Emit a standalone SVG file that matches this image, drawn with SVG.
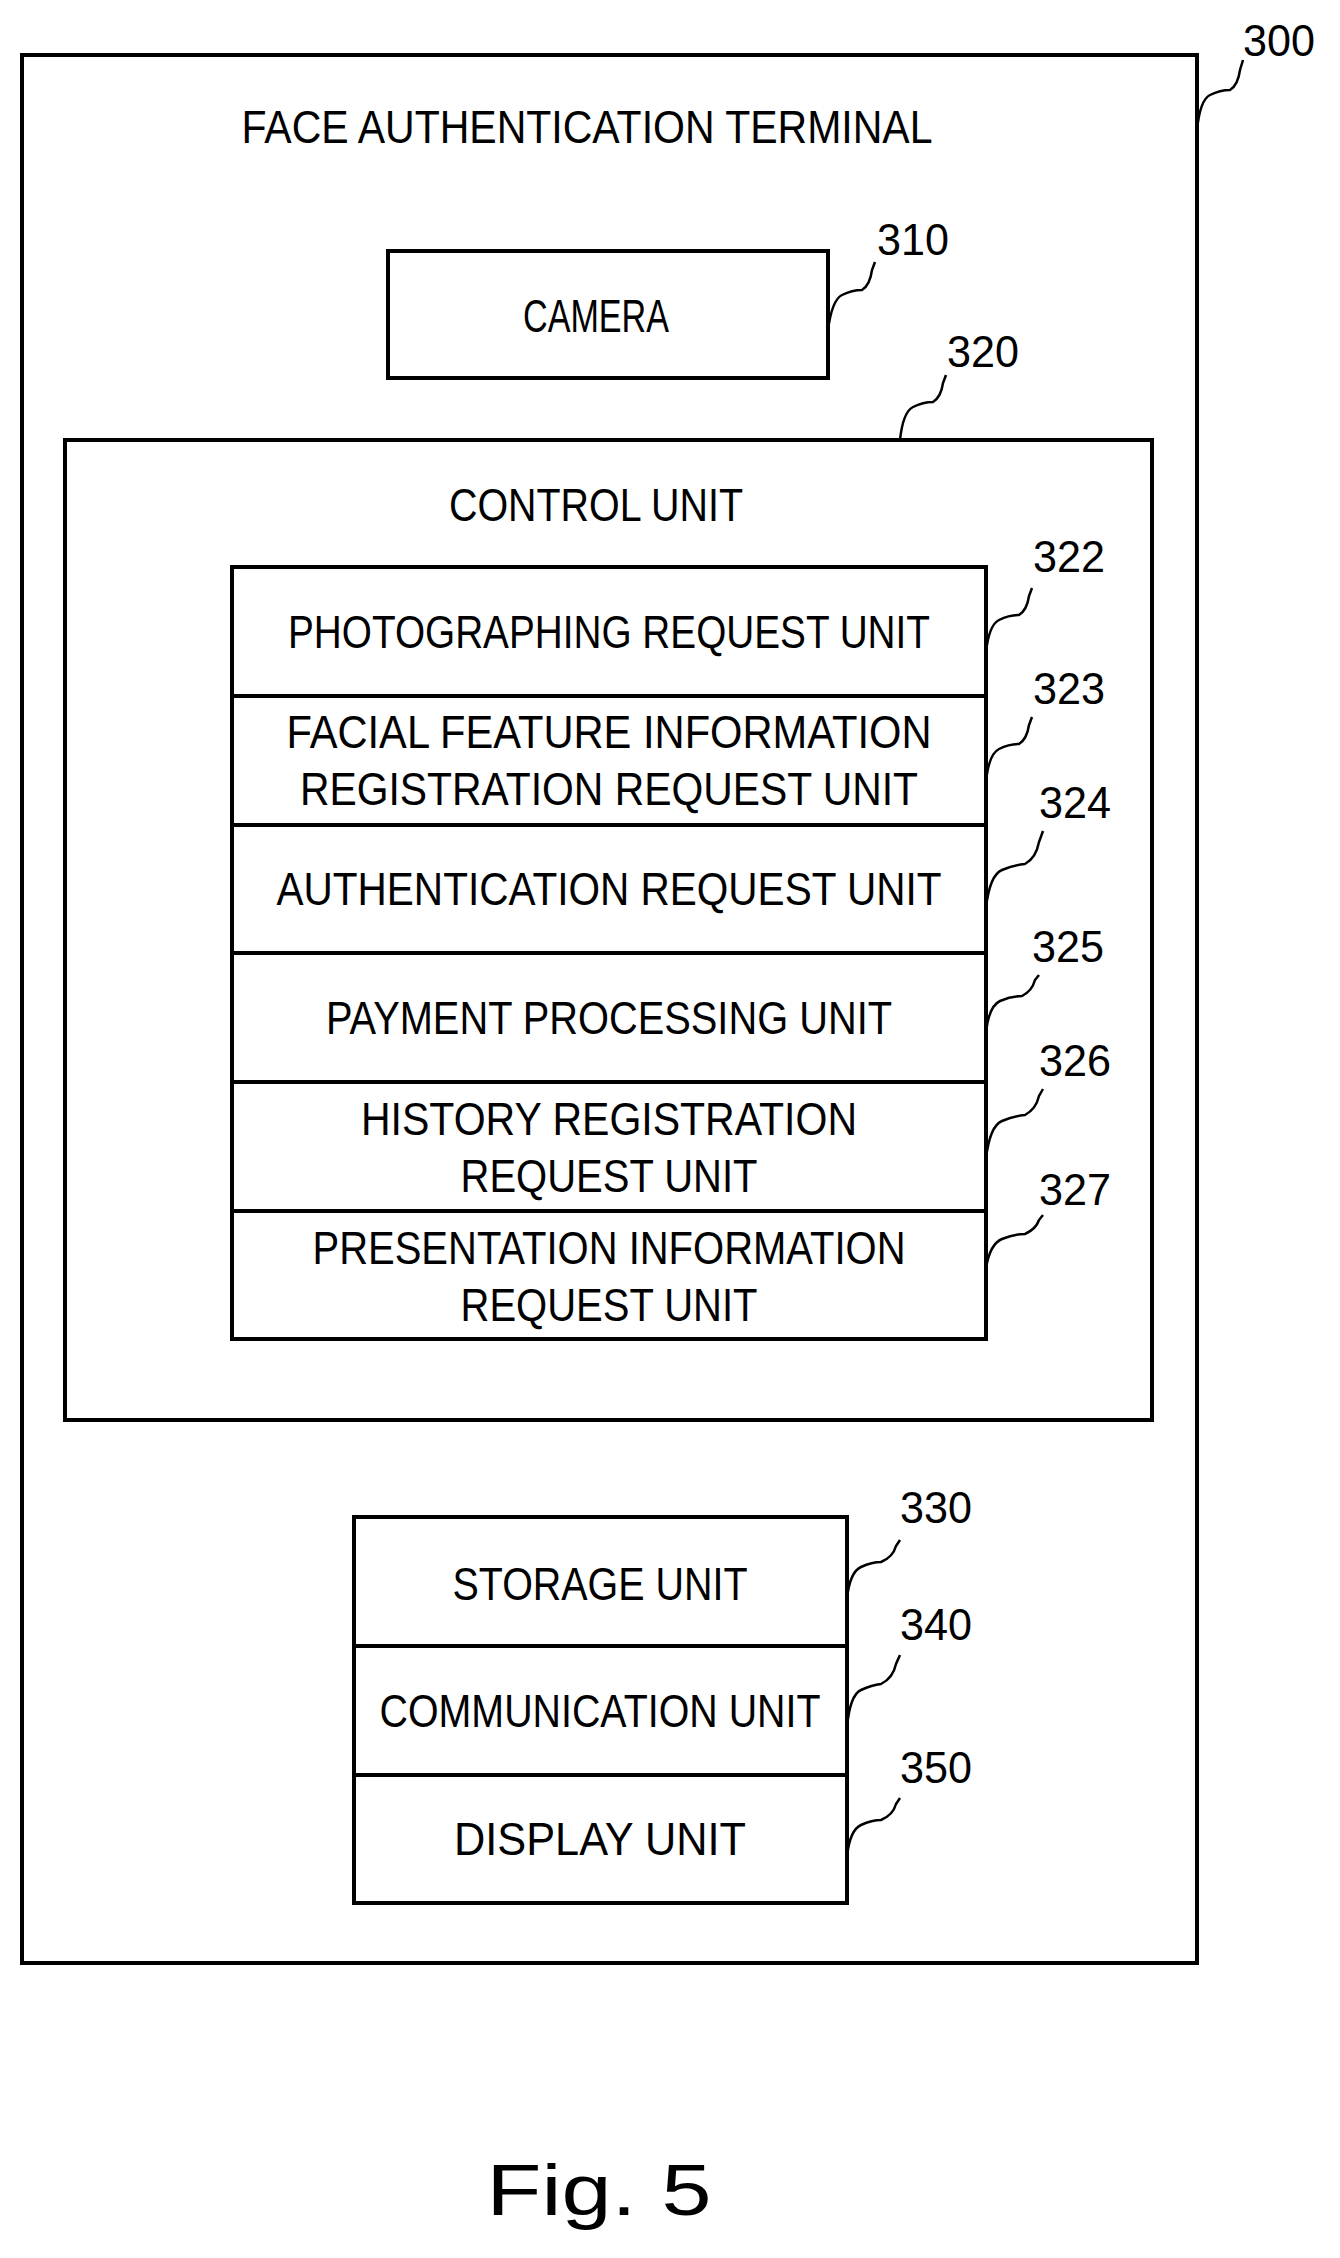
<svg xmlns="http://www.w3.org/2000/svg" width="1340" height="2258" viewBox="0 0 1340 2258">
<style>
rect{fill:none;stroke:#000;stroke-width:4}
text{font-family:"Liberation Sans",Arial,sans-serif;font-size:46px;text-anchor:middle;fill:#000}
.n{font-size:44px;text-anchor:start}
.c path{fill:none;stroke:#000;stroke-width:2.5}
</style>
<rect x="0" y="0" width="1340" height="2258" style="fill:#fff;stroke:none"/>
<g id="terminal"><rect x="22" y="55" width="1175" height="1908"/>
<text x="587" y="143" textLength="691" lengthAdjust="spacingAndGlyphs">FACE AUTHENTICATION TERMINAL</text>
<text class="n" x="1243" y="56" textLength="72" lengthAdjust="spacingAndGlyphs">300</text></g>
<g id="camera"><rect x="388" y="251" width="440" height="127"/>
<text x="596" y="332" textLength="146" lengthAdjust="spacingAndGlyphs">CAMERA</text>
<text class="n" x="877" y="255" textLength="72" lengthAdjust="spacingAndGlyphs">310</text></g>
<g id="control"><rect x="65" y="440" width="1087" height="980"/>
<text x="596" y="521" textLength="294" lengthAdjust="spacingAndGlyphs">CONTROL UNIT</text>
<text class="n" x="947" y="367" textLength="72" lengthAdjust="spacingAndGlyphs">320</text></g>
<g id="u322"><rect x="232" y="567" width="754" height="129"/>
<text x="609" y="648" textLength="642" lengthAdjust="spacingAndGlyphs">PHOTOGRAPHING REQUEST UNIT</text>
<text class="n" x="1033" y="572" textLength="72" lengthAdjust="spacingAndGlyphs">322</text></g>
<g id="u323"><rect x="232" y="696" width="754" height="129"/>
<text x="609" y="748" textLength="645" lengthAdjust="spacingAndGlyphs">FACIAL FEATURE INFORMATION</text>
<text x="609" y="805" textLength="618" lengthAdjust="spacingAndGlyphs">REGISTRATION REQUEST UNIT</text>
<text class="n" x="1033" y="704" textLength="72" lengthAdjust="spacingAndGlyphs">323</text></g>
<g id="u324"><rect x="232" y="825" width="754" height="128"/>
<text x="609" y="905" textLength="665" lengthAdjust="spacingAndGlyphs">AUTHENTICATION REQUEST UNIT</text>
<text class="n" x="1039" y="818" textLength="72" lengthAdjust="spacingAndGlyphs">324</text></g>
<g id="u325"><rect x="232" y="953" width="754" height="129"/>
<text x="609" y="1034" textLength="566" lengthAdjust="spacingAndGlyphs">PAYMENT PROCESSING UNIT</text>
<text class="n" x="1032" y="962" textLength="72" lengthAdjust="spacingAndGlyphs">325</text></g>
<g id="u326"><rect x="232" y="1082" width="754" height="129"/>
<text x="609" y="1135" textLength="496" lengthAdjust="spacingAndGlyphs">HISTORY REGISTRATION</text>
<text x="609" y="1192" textLength="297" lengthAdjust="spacingAndGlyphs">REQUEST UNIT</text>
<text class="n" x="1039" y="1076" textLength="72" lengthAdjust="spacingAndGlyphs">326</text></g>
<g id="u327"><rect x="232" y="1211" width="754" height="128"/>
<text x="609" y="1264" textLength="593" lengthAdjust="spacingAndGlyphs">PRESENTATION INFORMATION</text>
<text x="609" y="1321" textLength="297" lengthAdjust="spacingAndGlyphs">REQUEST UNIT</text>
<text class="n" x="1039" y="1205" textLength="72" lengthAdjust="spacingAndGlyphs">327</text></g>
<g id="u330"><rect x="354" y="1517" width="493" height="129"/>
<text x="600" y="1600" textLength="295" lengthAdjust="spacingAndGlyphs">STORAGE UNIT</text>
<text class="n" x="900" y="1523" textLength="72" lengthAdjust="spacingAndGlyphs">330</text></g>
<g id="u340"><rect x="354" y="1646" width="493" height="129"/>
<text x="600" y="1727" textLength="441" lengthAdjust="spacingAndGlyphs">COMMUNICATION UNIT</text>
<text class="n" x="900" y="1640" textLength="72" lengthAdjust="spacingAndGlyphs">340</text></g>
<g id="u350"><rect x="354" y="1775" width="493" height="128"/>
<text x="600" y="1855" textLength="292" lengthAdjust="spacingAndGlyphs">DISPLAY UNIT</text>
<text class="n" x="900" y="1783" textLength="72" lengthAdjust="spacingAndGlyphs">350</text></g>
<g class="c" id="connectors">
<path d="M1197 130 Q1200 100 1210 95 T1230 90 Q1238 85 1240 70 L1243 60"/>
<path d="M828 330 Q832 300 842 295 T862 290 Q870 285 872 270 L875 262"/>
<path d="M900 440 Q903 412 913 407 T933 402 Q941 397 943 383 L946 375"/>
<path d="M986 652 Q989 625 999 620 T1019 615 Q1027 610 1029 596 L1032 588"/>
<path d="M986 781 Q989 754 999 749 T1019 744 Q1027 739 1029 725 L1032 717"/>
<path d="M986 907 Q990 875 1002 870 T1025 864 Q1036 858 1039 842 L1043 831"/>
<path d="M986 1032 Q989 1006 1000 1001 T1022 996 Q1032 991 1035 980 L1039 975"/>
<path d="M986 1158 Q990 1126 1002 1121 T1025 1115 Q1036 1109 1039 1096 L1043 1089"/>
<path d="M986 1268 Q990 1244 1002 1239 T1025 1234 Q1036 1229 1039 1220 L1043 1215"/>
<path d="M847 1598 Q850 1572 861 1567 T881 1562 Q893 1557 896 1546 L900 1540"/>
<path d="M847 1727 Q850 1695 861 1690 T881 1684 Q893 1678 896 1664 L900 1655"/>
<path d="M847 1856 Q850 1830 861 1825 T881 1820 Q893 1815 896 1804 L900 1798"/>
</g>
<text x="599" y="2215" style="font-size:72px" textLength="225" lengthAdjust="spacingAndGlyphs">Fig. 5</text>
</svg>
